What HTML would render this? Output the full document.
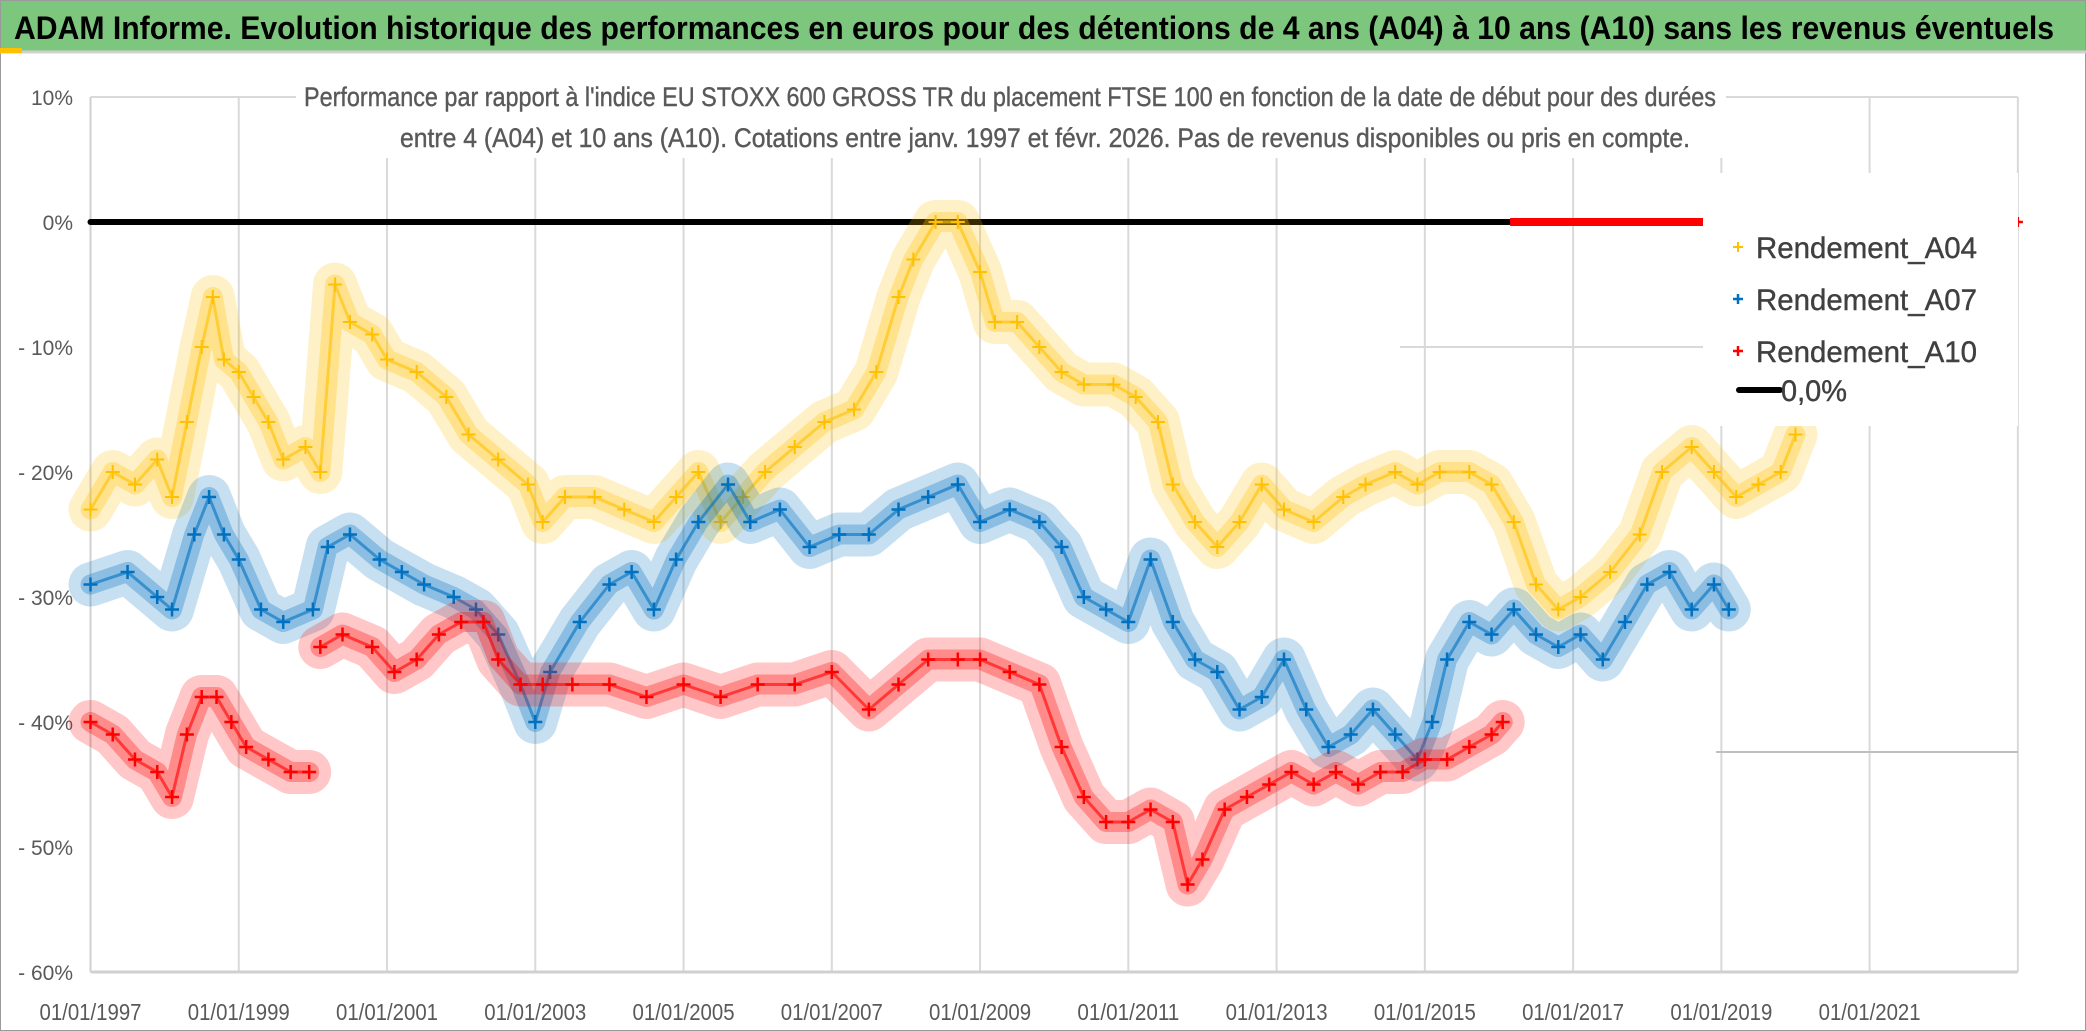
<!DOCTYPE html>
<html><head><meta charset="utf-8"><style>
html,body{margin:0;padding:0;background:#fff}
svg{display:block;font-family:"Liberation Sans",sans-serif}
</style></head><body>
<svg id="chart" width="2086" height="1031" viewBox="0 0 2086 1031">
<rect x="0" y="0" width="2086" height="1031" fill="#fff" stroke="#9a9a9a" stroke-width="2"/>
<rect x="1" y="1" width="2084" height="50" fill="#7dc67d"/>
<line x1="0" y1="52" x2="2086" y2="52" stroke="#d0d0d0" stroke-width="3"/>
<rect x="0" y="48" width="22" height="5" fill="#ffc000"/>
<text x="1034" y="39" text-anchor="middle" font-size="32" font-weight="bold" fill="#000" textLength="2040" lengthAdjust="spacingAndGlyphs">ADAM Informe. Evolution historique des performances en euros pour des détentions de 4 ans (A04) à 10 ans (A10) sans les revenus éventuels</text>
<g id="grid"></g>
<g id="yaxis"></g>
<g id="xaxis"></g>
<g id="series"></g>
<rect x="296" y="78" width="1430" height="80" fill="#fff"/>
<text x="1010" y="106" text-anchor="middle" font-size="27" fill="#595959" stroke="#595959" stroke-width="0.4" textLength="1412" lengthAdjust="spacingAndGlyphs">Performance par rapport à l'indice EU STOXX 600 GROSS TR  du placement FTSE 100 en fonction de la date de début pour des durées</text>
<text x="1045" y="147" text-anchor="middle" font-size="27" fill="#595959" stroke="#595959" stroke-width="0.4" textLength="1290" lengthAdjust="spacingAndGlyphs">entre 4 (A04) et 10 ans (A10). Cotations entre janv. 1997 et févr. 2026. Pas de revenus disponibles ou pris en compte.</text>
<g>
<rect x="1703" y="173" width="315" height="253" fill="#fff"/>
<g><path d="M1733 247h10M1738 242v10" stroke="#ffc000" stroke-width="2"/><text x="1756" y="258" font-size="30" fill="#404040" stroke="#404040" stroke-width="0.4" textLength="221" lengthAdjust="spacingAndGlyphs">Rendement_A04</text></g>
<g><path d="M1733 299h10M1738 294v10" stroke="#0070c0" stroke-width="2.5"/><text x="1756" y="310" font-size="30" fill="#404040" stroke="#404040" stroke-width="0.4" textLength="221" lengthAdjust="spacingAndGlyphs">Rendement_A07</text></g>
<g><path d="M1733 351h10M1738 346v10" stroke="#ff0000" stroke-width="2.5"/><text x="1756" y="362" font-size="30" fill="#404040" stroke="#404040" stroke-width="0.4" textLength="221" lengthAdjust="spacingAndGlyphs">Rendement_A10</text></g>
<g><line x1="1739" y1="390" x2="1780" y2="390" stroke="#000" stroke-width="6" stroke-linecap="round"/><text x="1781" y="401" font-size="30" fill="#404040" stroke="#404040" stroke-width="0.4" textLength="66" lengthAdjust="spacingAndGlyphs">0,0%</text></g>
</g>
</svg>
<script>
const yTicks=[10,0,-10,-20,-30,-40,-50,-60];
const yTickLabels=["10%","0%","- 10%","- 20%","- 30%","- 40%","- 50%","- 60%"];
const xTickYears=[1997,1999,2001,2003,2005,2007,2009,2011,2013,2015,2017,2019,2021];
const xTickLabels=["01/01/1997","01/01/1999","01/01/2001","01/01/2003","01/01/2005","01/01/2007","01/01/2009","01/01/2011","01/01/2013","01/01/2015","01/01/2017","01/01/2019","01/01/2021"];
const a04Dates=[1997.0,1997.3,1997.6,1997.9,1998.1,1998.3,1998.5,1998.65,1998.8,1999.0,1999.2,1999.4,1999.6,1999.9,2000.1,2000.3,2000.5,2000.8,2001.0,2001.4,2001.8,2002.1,2002.5,2002.9,2003.1,2003.4,2003.8,2004.2,2004.6,2004.9,2005.2,2005.5,2005.8,2006.1,2006.5,2006.9,2007.3,2007.6,2007.9,2008.1,2008.4,2008.7,2009.0,2009.2,2009.5,2009.8,2010.1,2010.4,2010.8,2011.1,2011.4,2011.6,2011.9,2012.2,2012.5,2012.8,2013.1,2013.5,2013.9,2014.2,2014.6,2014.9,2015.2,2015.6,2015.9,2016.2,2016.5,2016.8,2017.1,2017.5,2017.9,2018.2,2018.6,2018.9,2019.2,2019.5,2019.8,2020.0];
const a04Values=[-23,-20,-21,-19,-22,-16,-10,-6,-11,-12,-14,-16,-19,-18,-20,-5,-8,-9,-11,-12,-14,-17,-19,-21,-24,-22,-22,-23,-24,-22,-20,-24,-22,-20,-18,-16,-15,-12,-6,-3,0,0,-4,-8,-8,-10,-12,-13,-13,-14,-16,-21,-24,-26,-24,-21,-23,-24,-22,-21,-20,-21,-20,-20,-21,-24,-29,-31,-30,-28,-25,-20,-18,-20,-22,-21,-20,-17];
const a07Dates=[1997.0,1997.5,1997.9,1998.1,1998.4,1998.6,1998.8,1999.0,1999.3,1999.6,2000.0,2000.2,2000.5,2000.9,2001.2,2001.5,2001.9,2002.2,2002.5,2002.8,2003.0,2003.2,2003.6,2004.0,2004.3,2004.6,2004.9,2005.2,2005.6,2005.9,2006.3,2006.7,2007.1,2007.5,2007.9,2008.3,2008.7,2009.0,2009.4,2009.8,2010.1,2010.4,2010.7,2011.0,2011.3,2011.6,2011.9,2012.2,2012.5,2012.8,2013.1,2013.4,2013.7,2014.0,2014.3,2014.6,2014.9,2015.1,2015.3,2015.6,2015.9,2016.2,2016.5,2016.8,2017.1,2017.4,2017.7,2018.0,2018.3,2018.6,2018.9,2019.1];
const a07Values=[-29,-28,-30,-31,-25,-22,-25,-27,-31,-32,-31,-26,-25,-27,-28,-29,-30,-31,-33,-37,-40,-36,-32,-29,-28,-31,-27,-24,-21,-24,-23,-26,-25,-25,-23,-22,-21,-24,-23,-24,-26,-30,-31,-32,-27,-32,-35,-36,-39,-38,-35,-39,-42,-41,-39,-41,-43,-40,-35,-32,-33,-31,-33,-34,-33,-35,-32,-29,-28,-31,-29,-31];
const a10Dates=[1997.0,1997.3,1997.6,1997.9,1998.1,1998.3,1998.5,1998.7,1998.9,1999.1,1999.4,1999.7,1999.95,2000.1,2000.4,2000.8,2001.1,2001.4,2001.7,2002.0,2002.3,2002.5,2002.8,2003.1,2003.5,2004.0,2004.5,2005.0,2005.5,2006.0,2006.5,2007.0,2007.5,2007.9,2008.3,2008.7,2009.0,2009.4,2009.8,2010.1,2010.4,2010.7,2011.0,2011.3,2011.6,2011.8,2012.0,2012.3,2012.6,2012.9,2013.2,2013.5,2013.8,2014.1,2014.4,2014.7,2015.0,2015.3,2015.6,2015.9,2016.05];
const a10Values=[-40,-41,-43,-44,-46,-41,-38,-38,-40,-42,-43,-44,-44,-34,-33,-34,-36,-35,-33,-32,-32,-35,-37,-37,-37,-37,-38,-37,-38,-37,-37,-36,-39,-37,-35,-35,-35,-36,-37,-42,-46,-48,-48,-47,-48,-53,-51,-47,-46,-45,-44,-45,-44,-45,-44,-44,-43,-43,-42,-41,-40];
const a10ZeroRange=[2016.15,2018.8];
const a10ZeroLone=[2023.0];
const zeroLineRange=[1997.0,2016.15];

const X0=90.5,PX=74.13,Y0=222,PY=12.5;
function xs(yr){return X0+(yr-1997)*PX;}
function ys(v){return Y0-v*PY;}
const NS="http://www.w3.org/2000/svg";
function mk(tag,attrs,parent){const e=document.createElementNS(NS,tag);for(const k in attrs)e.setAttribute(k,attrs[k]);parent.appendChild(e);return e;}

const grid=document.getElementById('grid'),yax=document.getElementById('yaxis'),xax=document.getElementById('xaxis'),ser=document.getElementById('series');
const xRight=xs(2023);
xTickYears.forEach((yr,i)=>{
  const g=mk('line',{x1:xs(yr),y1:ys(10),x2:xs(yr),y2:ys(-60),stroke:'#d9d9d9','stroke-width':2},grid);
  
  
  const t=mk('text',{x:xs(yr),y:1020,'text-anchor':'middle','font-size':23,fill:'#595959',textLength:102,lengthAdjust:'spacingAndGlyphs'},xax);
  t.textContent=xTickLabels[i];
  
  
});
const rb=mk('line',{x1:xRight,y1:ys(10),x2:xRight,y2:ys(-60),stroke:'#d9d9d9','stroke-width':2},grid);


const tb=mk('line',{x1:xs(1997),y1:ys(10),x2:xRight,y2:ys(10),stroke:'#d9d9d9','stroke-width':2},grid);


const bx=mk('line',{x1:xs(1997),y1:ys(-60),x2:xRight,y2:ys(-60),stroke:'#d0d0d0','stroke-width':3},grid);


const by=mk('line',{x1:xs(1997),y1:ys(10),x2:xs(1997),y2:ys(-60),stroke:'#d0d0d0','stroke-width':2},grid);


const s1=mk('line',{x1:1400,y1:ys(-10),x2:1703,y2:ys(-10),stroke:'#d9d9d9','stroke-width':2},grid);


const s2=mk('line',{x1:1716,y1:ys(-42.4),x2:xRight,y2:ys(-42.4),stroke:'#bfbfbf','stroke-width':2},grid);


yTicks.forEach((v,i)=>{
  const t=mk('text',{x:73,y:ys(v)+8,'text-anchor':'end','font-size':21,fill:'#595959'},yax);
  t.textContent=yTickLabels[i];
  
  
});

const zl=mk('line',{x1:xs(zeroLineRange[0]),y1:ys(0),x2:xs(zeroLineRange[1]),y2:ys(0),stroke:'#000','stroke-width':6,'stroke-linecap':'round'},ser);



function drawSeries(dates,vals,color,name,sw,breakAfter){
  const g=mk('g',{},ser);
  
  
  let d='';
  dates.forEach((yr,i)=>{
    const cmd=(i===0||(breakAfter!==null&&dates[i-1]<=breakAfter&&yr>breakAfter))?'M':'L';
    d+=cmd+xs(yr).toFixed(1)+' '+ys(vals[i]).toFixed(1);
  });
  mk('path',{d:d,fill:'none',stroke:color,'stroke-width':44,'stroke-opacity':0.22,'stroke-linejoin':'round','stroke-linecap':'round'},g);
  mk('path',{d:d,fill:'none',stroke:color,'stroke-width':20,'stroke-opacity':0.3,'stroke-linejoin':'round','stroke-linecap':'round'},g);
  mk('path',{d:d,fill:'none',stroke:color,'stroke-width':3,'stroke-opacity':0.6,'stroke-linejoin':'round'},g);
  dates.forEach((yr,i)=>{
    const x=xs(yr),y=ys(vals[i]);
    const m=mk('path',{d:`M${x-7} ${y}h14M${x} ${y-7}v14`,stroke:color,'stroke-width':sw},g);
    
    
  });
}
drawSeries(a04Dates,a04Values,'#ffc000','series-a04',2,null);
drawSeries(a07Dates,a07Values,'#0070c0','series-a07',2.5,null);
drawSeries(a10Dates,a10Values,'#ff0000','series-a10',2.5,2000.0);

const zr=mk('line',{x1:xs(a10ZeroRange[0]),y1:ys(0),x2:xs(a10ZeroRange[1]),y2:ys(0),stroke:'#ff0000','stroke-width':8},ser);


a10ZeroLone.forEach(yr=>{
  const m=mk('path',{d:`M${xs(yr)-5} ${ys(0)}h10M${xs(yr)} ${ys(0)-5}v10`,stroke:'#ff0000','stroke-width':2.5},ser);
  
  
});
</script>
</body></html>
